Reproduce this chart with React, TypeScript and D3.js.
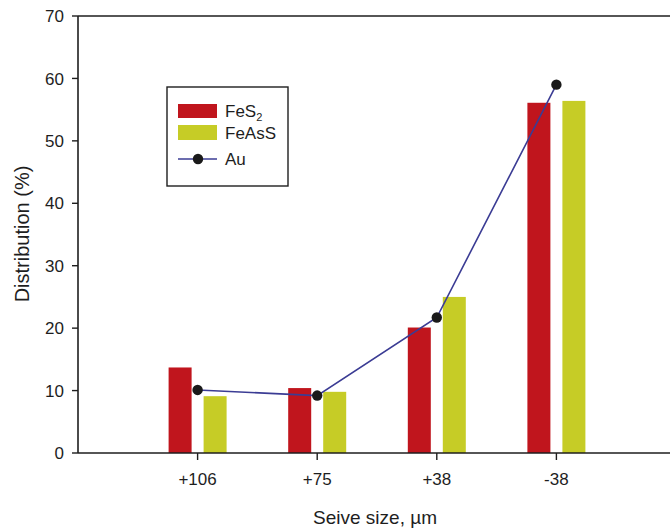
import React, { useEffect, useRef } from 'react';
import * as d3 from 'd3';

// sieve fractions, left to right
const sizes = ['+106', '+75', '+38', '-38'];
const fes2 = [13.7, 10.4, 20.1, 56.1];
const feass = [9.1, 9.8, 25.0, 56.4];
const au = [10.1, 9.2, 21.7, 59.0];
const yTicks = [0, 10, 20, 30, 40, 50, 60, 70];

const RED = '#c0151d';
const YELLOW = '#c6cc26';
const BLUE = '#3b3c94';
const INK = '#1e1e1e';
const FONT = '"Liberation Sans", Arial, sans-serif';

const App = () => {
  const ref = useRef<SVGSVGElement>(null);

  useEffect(() => {
    const svg = d3.select(ref.current);
    svg.selectAll('*').remove();

    // plot box; right side runs off the picture like the original crop
    const left = 78, top = 16, bottom = 453, right = 676;

    const x = d3.scaleLinear().domain([0, sizes.length + 1]).range([left, right]);
    const y = d3.scaleLinear().domain([0, 70]).range([bottom, top]);
    const barW = 23, off = 17.5;

    const g = svg.append('g');

    // bars
    g.selectAll('.red').data(fes2).enter().append('rect')
      .attr('x', (d, i) => x(i + 1) - off - barW / 2)
      .attr('y', d => y(d))
      .attr('width', barW)
      .attr('height', d => y(0) - y(d))
      .attr('fill', RED);

    g.selectAll('.yel').data(feass).enter().append('rect')
      .attr('x', (d, i) => x(i + 1) + off - barW / 2)
      .attr('y', d => y(d))
      .attr('width', barW)
      .attr('height', d => y(0) - y(d))
      .attr('fill', YELLOW);

    // Au line + dots
    const line = d3.line<number>().x((d, i) => x(i + 1)).y(d => y(d));
    g.append('path').datum(au)
      .attr('d', line)
      .attr('fill', 'none')
      .attr('stroke', BLUE)
      .attr('stroke-width', 1.6);
    g.selectAll('.dot').data(au).enter().append('circle')
      .attr('cx', (d, i) => x(i + 1))
      .attr('cy', d => y(d))
      .attr('r', 5.2)
      .attr('fill', '#1a1a1a');

    // axes frame
    g.append('line').attr('x1', left).attr('x2', left).attr('y1', top).attr('y2', bottom)
      .attr('stroke', INK).attr('stroke-width', 1.6);
    g.append('line').attr('x1', left).attr('x2', right).attr('y1', top).attr('y2', top)
      .attr('stroke', INK).attr('stroke-width', 1.6);
    g.append('line').attr('x1', left).attr('x2', right).attr('y1', bottom).attr('y2', bottom)
      .attr('stroke', INK).attr('stroke-width', 1.6);

    // y ticks
    yTicks.forEach(t => {
      g.append('line').attr('x1', left - 6).attr('x2', left).attr('y1', y(t)).attr('y2', y(t))
        .attr('stroke', INK).attr('stroke-width', 1.4);
      g.append('text').attr('x', left - 14).attr('y', y(t)).attr('dy', '0.36em')
        .attr('text-anchor', 'end').attr('font-size', 17).attr('font-family', FONT)
        .attr('fill', INK).text(t);
    });

    // x ticks
    sizes.forEach((s, i) => {
      g.append('line').attr('x1', x(i + 1)).attr('x2', x(i + 1)).attr('y1', bottom).attr('y2', bottom + 7)
        .attr('stroke', INK).attr('stroke-width', 1.4);
      g.append('text').attr('x', x(i + 1)).attr('y', 485)
        .attr('text-anchor', 'middle').attr('font-size', 17).attr('font-family', FONT)
        .attr('fill', INK).text(s);
    });

    // axis titles
    g.append('text').attr('transform', 'translate(29,234) rotate(-90)')
      .attr('text-anchor', 'middle').attr('font-size', 20).attr('font-family', FONT)
      .attr('fill', INK).text('Distribution (%)');
    g.append('text').attr('x', 375).attr('y', 524)
      .attr('text-anchor', 'middle').attr('font-size', 19).attr('font-family', FONT)
      .attr('fill', INK).text('Seive size, \u00b5m');

    // legend
    const lg = g.append('g');
    lg.append('rect').attr('x', 167).attr('y', 87).attr('width', 121).attr('height', 99)
      .attr('fill', 'white').attr('stroke', INK).attr('stroke-width', 1.4);
    lg.append('rect').attr('x', 178).attr('y', 104).attr('width', 39).attr('height', 14).attr('fill', RED);
    lg.append('rect').attr('x', 178).attr('y', 125).attr('width', 39).attr('height', 15).attr('fill', YELLOW);
    lg.append('line').attr('x1', 178).attr('x2', 217).attr('y1', 159).attr('y2', 159)
      .attr('stroke', BLUE).attr('stroke-width', 1.6);
    lg.append('circle').attr('cx', 198).attr('cy', 159).attr('r', 5.2).attr('fill', '#1a1a1a');

    const t1 = lg.append('text').attr('x', 225).attr('y', 117).attr('font-size', 17)
      .attr('font-family', FONT).attr('fill', INK);
    t1.append('tspan').text('FeS');
    t1.append('tspan').attr('font-size', 11).attr('dy', 4).text('2');
    lg.append('text').attr('x', 225).attr('y', 139).attr('font-size', 17)
      .attr('font-family', FONT).attr('fill', INK).text('FeAsS');
    lg.append('text').attr('x', 225).attr('y', 165).attr('font-size', 17)
      .attr('font-family', FONT).attr('fill', INK).text('Au');
  }, []);

  return (
    <svg ref={ref} width={670} height={531}
      style={{ position: 'absolute', left: 0, top: 0, background: 'white' }} />
  );
};

export default App;
